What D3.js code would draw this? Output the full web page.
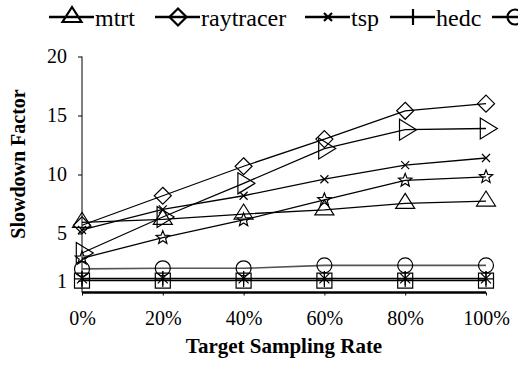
<!DOCTYPE html>
<html>
<head>
<meta charset="utf-8">
<script src="https://cdn.jsdelivr.net/npm/d3@7"></script>
<style>
  body { margin: 0; background: #fff; }
  svg text { font-family: "Liberation Serif", "Times New Roman", serif; fill: #000; }
</style>
</head>
<body>
<script>
// values
var categories = ["0%", "20%", "40%", "60%", "80%", "100%"];
var yTicks = [1, 5, 10, 15, 20];

var mtrt = [5.95, 6.2, 6.65, 7.0, 7.55, 7.75];
var raytracer = [5.7, 8.2, 10.7, 13.0, 15.4, 16.0];
var tsp = [5.3, 7.05, 8.2, 9.6, 10.8, 11.4];
var hedc = [1.15, 1.15, 1.15, 1.15, 1.15, 1.15];
var elevator = [2.0, 2.05, 2.05, 2.3, 2.3, 2.3];
var moldyn = [3.35, 6.4, 9.25, 12.2, 13.8, 13.9];
var montecarlo = [2.9, 4.65, 6.15, 7.85, 9.5, 9.8];
var philo = [1.0, 1.0, 1.0, 1.0, 1.0, 1.0];
var sor = [1.2, 1.2, 1.2, 1.2, 1.2, 1.2];

// star path helper
function starPath(R, r) {
    var p = [];
    for (var i = 0; i < 10; i++) {
        var a = -Math.PI / 2 + i * Math.PI / 5, rad = i % 2 ? r : R;
        p.push((rad * Math.cos(a)).toFixed(2) + "," + (rad * Math.sin(a)).toFixed(2));
    }
    return "M" + p.join("L") + "Z";
}

var shapes = {
    triangle: "M0,-10L9.5,5L-9.5,5Z",
    diamond: "M0,-8.5L8.5,0L0,8.5L-8.5,0Z",
    cross: "M-4,-4L4,4M-4,4L4,-4",
    plus: "M0,-8V8M-8,0H8",
    circle: "M7.5,0A7.5,7.5 0 1,1 -7.5,0A7.5,7.5 0 1,1 7.5,0Z",
    rtri: "M-5.7,-10.5L11.3,0L-5.7,10.5Z",
    star: starPath(7, 3),
    square: "M-7.5,-7.5H7.5V7.5H-7.5Z",
    asterisk: "M-5,-5L5,5M-5,5L5,-5M0,-7V7"
};

var series = [
    { name: "mtrt", values: mtrt, shape: "triangle", color: "#000" },
    { name: "raytracer", values: raytracer, shape: "diamond", color: "#000" },
    { name: "tsp", values: tsp, shape: "cross", color: "#000" },
    { name: "hedc", values: hedc, shape: "plus", color: "#000" },
    { name: "elevator", values: elevator, shape: "circle", color: "#555" },
    { name: "moldyn", values: moldyn, shape: "rtri", color: "#000" },
    { name: "montecarlo", values: montecarlo, shape: "star", color: "#000" },
    { name: "philo", values: philo, shape: "square", color: "#000" },
    { name: "sor", values: sor, shape: "asterisk", color: "#000" }
];

var width = 518, height = 366;

var svg = d3.select("body").append("svg")
    .attr("width", width)
    .attr("height", height);

var x = d3.scalePoint().domain(categories).range([82, 486]);
var y = d3.scaleLinear().domain([0, 20]).range([292.5, 56.5]);

// y axis
var yAxis = svg.append("g")
    .attr("transform", "translate(82,0)")
    .call(d3.axisLeft(y).tickValues(yTicks).tickSize(4).tickPadding(11))
    .attr("font-family", null);
yAxis.select(".domain").attr("d", "M0," + y(0) + "V" + y(20)).attr("stroke", "#000");
yAxis.selectAll("text").attr("font-size", 20);

// x axis
var xAxis = svg.append("g")
    .attr("transform", "translate(0," + y(0) + ")")
    .call(d3.axisBottom(x).tickSize(3).tickPadding(15))
    .attr("font-family", null);
xAxis.select(".domain").attr("d", "M82,0H486").attr("stroke", "#000").attr("stroke-width", 2.5);
xAxis.selectAll("text").attr("font-size", 20);

// axis titles
svg.append("text")
    .attr("x", 284).attr("y", 353)
    .attr("text-anchor", "middle")
    .attr("font-size", 21).attr("font-weight", "bold")
    .text("Target Sampling Rate");

svg.append("text")
    .attr("transform", "translate(25,164) rotate(-90)")
    .attr("text-anchor", "middle")
    .attr("font-size", 20).attr("font-weight", "bold")
    .text("Slowdown Factor");

// lines
var line = d3.line()
    .x(function (d, i) { return x(categories[i]); })
    .y(function (d) { return y(d); });

var plot = svg.append("g");

series.forEach(function (s) {
    plot.append("path")
        .attr("d", line(s.values))
        .attr("fill", "none")
        .attr("stroke", s.color)
        .attr("stroke-width", s.shape === "circle" ? 1.6 : 1.3);
});

series.forEach(function (s) {
    plot.selectAll(null)
        .data(s.values)
        .enter().append("path")
        .attr("transform", function (d, i) { return "translate(" + x(categories[i]) + "," + y(d) + ")"; })
        .attr("d", shapes[s.shape])
        .attr("fill", "none")
        .attr("stroke", "#000")
        .attr("stroke-width", 1.2);
});

// legend (runs off the right edge like the original)
var legendStart = [49, 155, 305, 390, 492];
var legend = svg.append("g");
var cursor = 0;
series.forEach(function (s, i) {
    var lx = i < legendStart.length ? legendStart[i] : cursor;
    var g = legend.append("g").attr("transform", "translate(" + lx + ",0)");
    g.append("line")
        .attr("x1", 0).attr("x2", 45).attr("y1", 17).attr("y2", 17)
        .attr("stroke", "#000").attr("stroke-width", 2.5);
    g.append("path")
        .attr("transform", "translate(23,17)")
        .attr("d", shapes[s.shape])
        .attr("fill", "none").attr("stroke", "#000").attr("stroke-width", 2.2);
    var t = g.append("text")
        .attr("x", 46).attr("y", 26)
        .attr("font-size", 24)
        .text(s.name);
    cursor = lx + 46 + t.node().getComputedTextLength() + 10;
});
</script>
</body>
</html>
